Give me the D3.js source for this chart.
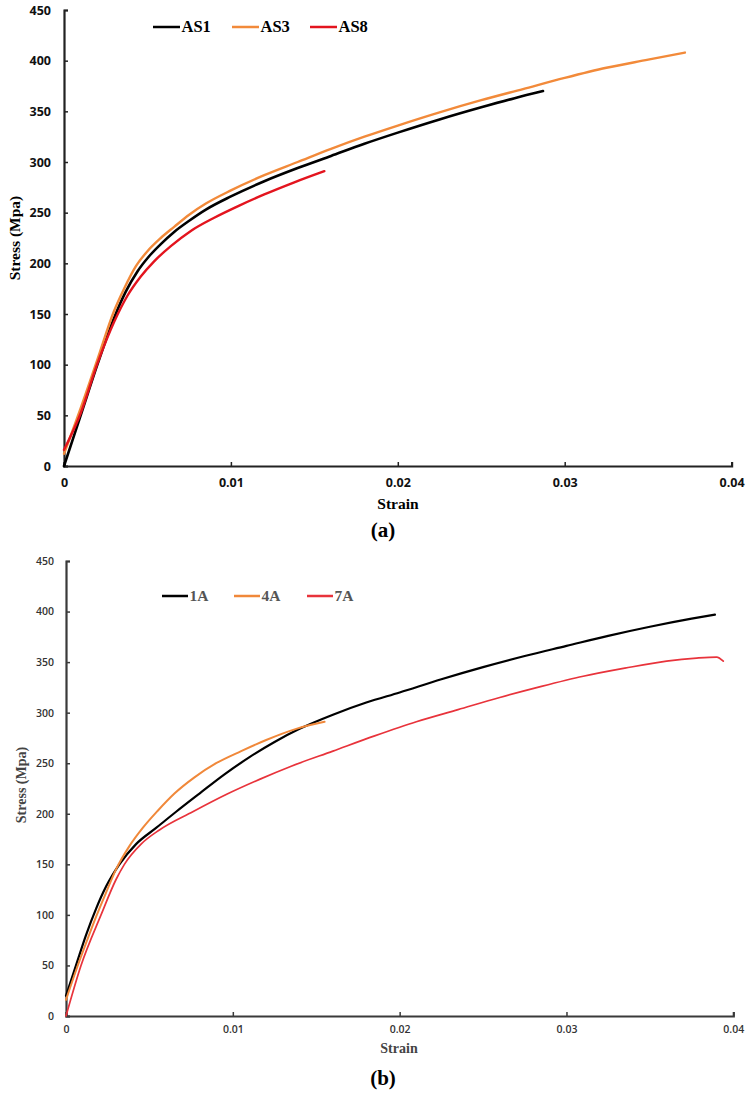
<!DOCTYPE html>
<html>
<head>
<meta charset="utf-8">
<script src="https://cdn.jsdelivr.net/npm/d3@7"></script>
<style>
  html, body { margin: 0; padding: 0; background: #fff; }
  svg { display: block; }
</style>
</head>
<body>
<svg id="chart" width="753" height="1095"></svg>
<script>
// ---------- DATA ----------
const xTicks = [0, 0.01, 0.02, 0.03, 0.04];
const yTicks = [0, 50, 100, 150, 200, 250, 300, 350, 400, 450];

// Panel (a)
const seriesNamesA = ["AS1", "AS3", "AS8"];
const as1Strain = [0, 0.001, 0.002, 0.003, 0.0037, 0.0044, 0.0051, 0.0058, 0.0066, 0.0075, 0.0085, 0.0100, 0.0120, 0.0140, 0.0160, 0.0180, 0.0200, 0.0225, 0.0250, 0.0270, 0.0287];
const as1Stress = [0, 50, 100, 146, 172, 192, 207, 219, 231, 242, 253, 266, 281, 294, 306, 318, 329, 342, 354, 363, 370];
const as3Strain = [0, 0.001, 0.002, 0.003, 0.0036, 0.0043, 0.0050, 0.0058, 0.0066, 0.0075, 0.0085, 0.0100, 0.0120, 0.0140, 0.0160, 0.0180, 0.0200, 0.0225, 0.0250, 0.0275, 0.0300, 0.0325, 0.0350, 0.0372];
const as3Stress = [12, 57, 105, 153, 175, 197, 212, 225, 236, 248, 259, 272, 287, 300, 313, 325, 336, 349, 361, 372, 383, 393, 401, 408];
const as8Strain = [0, 0.001, 0.002, 0.003, 0.0038, 0.0046, 0.0054, 0.0064, 0.0076, 0.0090, 0.0105, 0.0120, 0.0138, 0.0156];
const as8Stress = [16, 52, 101, 142, 168, 187, 202, 217, 232, 245, 257, 268, 280, 291];

// Panel (b)
const seriesNamesB = ["1A", "4A", "7A"];
const a1Strain = [0, 0.0006, 0.0012, 0.0018, 0.0024, 0.0032, 0.0042, 0.0054, 0.0066, 0.0080, 0.0095, 0.0110, 0.0125, 0.0140, 0.0160, 0.0180, 0.0200, 0.0225, 0.0250, 0.0275, 0.0300, 0.0325, 0.0350, 0.0375, 0.0389];
const a1Stress = [20, 50, 80, 106, 128, 150, 170, 186, 202, 220, 239, 256, 271, 284, 298, 310, 320, 333, 345, 356, 366, 376, 385, 393, 397];
const a4Strain = [0, 0.0006, 0.0012, 0.0018, 0.0024, 0.0030, 0.0038, 0.0046, 0.0055, 0.0065, 0.0077, 0.0090, 0.0105, 0.0120, 0.0138, 0.0155];
const a4Stress = [16, 45, 72, 98, 122, 145, 168, 186, 203, 220, 236, 250, 262, 273, 284, 291];
const a7Strain = [0, 0.0009, 0.0021, 0.0030, 0.0035, 0.0045, 0.0056, 0.0076, 0.0096, 0.0116, 0.0135, 0.0160, 0.0185, 0.0210, 0.0235, 0.0260, 0.0285, 0.0310, 0.0335, 0.0360, 0.0378, 0.0390, 0.0394];
const a7Stress = [0, 50, 100, 135, 150, 170, 184, 202, 219, 234, 247, 262, 277, 291, 303, 315, 326, 336, 344, 351, 354, 355, 351];

// ---------- DRAW ----------
const svg = d3.select("#chart");
const zip = (xs, ys) => xs.map((x, i) => ({ x, y: ys[i] }));
const fmt = d => d === 0 ? "0" : String(d);

function panel(cfg) {
  const x = d3.scaleLinear().domain([0, 0.04]).range([cfg.x0, cfg.x1]);
  const y = d3.scaleLinear().domain([0, 450]).range([cfg.y0, cfg.y1]);
  const g = svg.append("g");

  const yAxis = g.append("g").attr("transform", `translate(${cfg.x0},0)`)
    .call(d3.axisLeft(y).tickValues(yTicks).tickSizeInner(-4).tickSizeOuter(-4)
      .tickPadding(cfg.yPad).tickFormat(fmt));
  const xAxis = g.append("g").attr("transform", `translate(0,${cfg.y0})`)
    .call(d3.axisBottom(x).tickValues(xTicks).tickSizeInner(-4).tickSizeOuter(-4)
      .tickPadding(cfg.xPad).tickFormat(fmt));
  [yAxis, xAxis].forEach(a => {
    a.select(".domain").attr("stroke", cfg.axisColor).attr("stroke-width", cfg.axisWidth);
    a.selectAll(".tick line").attr("stroke", cfg.axisColor).attr("stroke-width", 1.5);
    a.selectAll(".tick text")
      .attr("font-family", "'Open Sans', sans-serif")
      .attr("font-weight", cfg.tickWeight)
      .attr("font-size", cfg.tickSize)
      .attr("fill", cfg.tickColor);
  });

  const line = d3.line().x(d => x(d.x)).y(d => y(d.y)).curve(d3.curveMonotoneX);
  cfg.series.forEach(s => {
    g.append("path").datum(zip(s.xs, s.ys))
      .attr("fill", "none").attr("stroke", s.color)
      .attr("stroke-width", s.width).attr("stroke-linecap", "round")
      .attr("stroke-linejoin", "round").attr("d", line);
  });

  // legend
  cfg.series.forEach((s, i) => {
    const lx = cfg.legendX[i];
    g.append("line").attr("x1", lx).attr("x2", lx + cfg.legendLen)
      .attr("y1", cfg.legendY).attr("y2", cfg.legendY)
      .attr("stroke", s.color).attr("stroke-width", 2.5);
    g.append("text").attr("x", lx + cfg.legendLen + 1.5).attr("y", cfg.legendY + cfg.legendDy)
      .attr("font-family", "'Liberation Serif', 'Times New Roman', serif")
      .attr("font-weight", "bold").attr("font-size", cfg.legendSize)
      .attr("fill", cfg.legendColor).text(s.name);
  });

  // axis titles
  g.append("text").attr("x", cfg.xTitle[0]).attr("y", cfg.xTitle[1])
    .attr("text-anchor", "middle")
    .attr("font-family", "'Liberation Serif', 'Times New Roman', serif")
    .attr("font-weight", "bold").attr("font-size", cfg.titleSize)
    .attr("fill", cfg.titleColor).text("Strain");
  g.append("text")
    .attr("transform", `translate(${cfg.yTitle[0]},${cfg.yTitle[1]}) rotate(-90)`)
    .attr("text-anchor", "middle").attr("dy", "0.35em")
    .attr("font-family", "'Liberation Serif', 'Times New Roman', serif")
    .attr("font-weight", "bold").attr("font-size", cfg.titleSize)
    .attr("fill", cfg.titleColor).text("Stress (Mpa)");

  // panel label
  g.append("text").attr("x", cfg.label[0]).attr("y", cfg.label[1])
    .attr("text-anchor", "middle")
    .attr("font-family", "'Liberation Serif', 'Times New Roman', serif")
    .attr("font-weight", "bold").attr("font-size", 21)
    .attr("fill", "#000").text(cfg.labelText);
}

panel({
  x0: 64, x1: 731.6, y0: 466, y1: 10,
  yPad: 13, xPad: 12,
  axisColor: "#222", axisWidth: 2.2,
  tickSize: 12.5, tickWeight: 700, tickColor: "#111",
  series: [
    { name: seriesNamesA[0], xs: as1Strain, ys: as1Stress, color: "#000000", width: 2.6 },
    { name: seriesNamesA[1], xs: as3Strain, ys: as3Stress, color: "#F28A3A", width: 2.4 },
    { name: seriesNamesA[2], xs: as8Strain, ys: as8Stress, color: "#E3141E", width: 2.4 }
  ],
  legendX: [153, 232, 310], legendLen: 27, legendY: 27, legendDy: 5, legendSize: 16.5,
  legendColor: "#000",
  xTitle: [398, 509], yTitle: [15, 238], titleSize: 15.5, titleColor: "#000",
  label: [383, 537], labelText: "(a)"
});

panel({
  x0: 66, x1: 733.3, y0: 1016, y1: 561,
  yPad: 12, xPad: 10,
  axisColor: "#3a3a3a", axisWidth: 2.2,
  tickSize: 10.5, tickWeight: 600, tickColor: "#333",
  series: [
    { name: seriesNamesB[0], xs: a1Strain, ys: a1Stress, color: "#000000", width: 2.2 },
    { name: seriesNamesB[1], xs: a4Strain, ys: a4Stress, color: "#F0883A", width: 2 },
    { name: seriesNamesB[2], xs: a7Strain, ys: a7Stress, color: "#E8333B", width: 1.7 }
  ],
  legendX: [162, 234, 307], legendLen: 26, legendY: 596, legendDy: 5, legendSize: 15.5,
  legendColor: "#555",
  xTitle: [399, 1053], yTitle: [21, 785], titleSize: 14, titleColor: "#444",
  label: [383, 1085], labelText: "(b)"
});
</script>
</body>
</html>
